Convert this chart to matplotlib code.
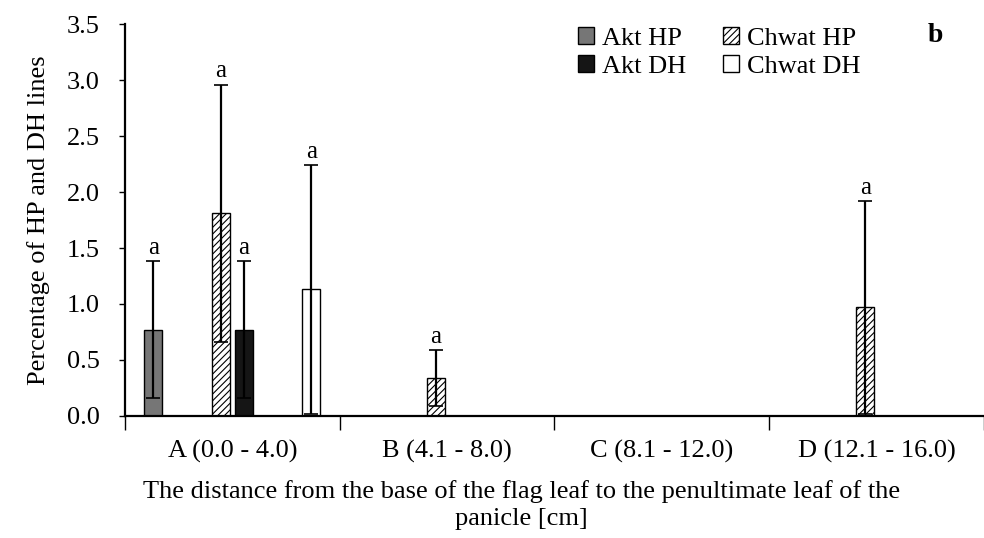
import numpy as np
import matplotlib.pyplot as plt

plt.rcParams['font.family'] = ['Liberation Serif', 'DejaVu Serif']
plt.rcParams['hatch.linewidth'] = 0.8

groups = ["A (0.0 - 4.0)", "B (4.1 - 8.0)", "C (8.1 - 12.0)", "D (12.1 - 16.0)"]
series = ["Akt HP", "Akt DH", "Chwat HP", "Chwat DH"]
akt_hp = [0.77, 0.0, 0.0, 0.0]
akt_hp_sd = [0.61, 0.0, 0.0, 0.0]
akt_dh = [0.77, 0.0, 0.0, 0.0]
akt_dh_sd = [0.61, 0.0, 0.0, 0.0]
chwat_hp = [1.81, 0.34, 0.0, 0.97]
chwat_hp_sd = [1.15, 0.25, 0.0, 0.95]
chwat_dh = [1.13, 0.0, 0.0, 0.0]
chwat_dh_sd = [1.11, 0.0, 0.0, 0.0]

means = [akt_hp, akt_dh, chwat_hp, chwat_dh]
sds = [akt_hp_sd, akt_dh_sd, chwat_hp_sd, chwat_dh_sd]
slots = [0, 4, 3, 7]  # position of each series inside its group (8 slots)
faces = ["#767676", "#151515", "white", "white"]
hatches = [None, None, "/////", None]

fig = plt.figure(figsize=(9.84, 5.38), dpi=100)
ax = fig.add_axes([0.127, 0.227, 0.873, 0.728])

slot_w = 0.105
bar_w = 0.084
x = np.arange(len(groups))
for i in range(len(series)):
    pos = x + 0.5 + (slots[i] - 3.5) * slot_w
    ax.bar(pos, means[i], bar_w, color=faces[i], edgecolor="black", linewidth=1.0,
           hatch=hatches[i], label=series[i], zorder=2)
    m = np.array(means[i])
    s = np.array(sds[i])
    keep = m > 0
    ax.errorbar(pos[keep], m[keep], yerr=s[keep], fmt="none", ecolor="black",
                elinewidth=1.6, capsize=5, capthick=1.2, zorder=3)
    # significance letter above each error bar
    for px, mv, sv in zip(pos[keep], m[keep], s[keep]):
        ax.text(px, mv + sv + 0.02, "a", ha="center", va="bottom", fontsize=18)

ax.set_xlim(0, 4)
ax.set_ylim(0, 3.5)
ax.set_yticks(np.arange(0, 3.51, 0.5))
ax.set_yticklabels([f"{v:.1f}" for v in np.arange(0, 3.51, 0.5)])
ax.set_xticks(np.arange(0, 5))
ax.set_xticklabels([])
ax.set_xticks(x + 0.5, minor=True)
ax.set_xticklabels(groups, minor=True)
ax.tick_params(axis="x", which="major", length=10, width=1.0, direction="out")
ax.tick_params(axis="x", which="minor", length=0, pad=17, labelsize=19)
ax.tick_params(axis="y", length=4, width=1.0, direction="out", pad=14, labelsize=19)

for side in ["top", "right"]:
    ax.spines[side].set_visible(False)
for side in ["left", "bottom"]:
    ax.spines[side].set_linewidth(1.6)

ax.set_ylabel("Percentage of HP and DH lines", fontsize=19, labelpad=12)
fig.text(0.53, 1 - 480 / 538, "The distance from the base of the flag leaf to the penultimate leaf of the\npanicle [cm]",
         ha="center", va="top", fontsize=19, linespacing=1.3)

ax.legend(ncol=2, frameon=False, fontsize=19, loc="upper left",
          bbox_to_anchor=(565 / 984, 1 - 14 / 538), bbox_transform=fig.transFigure,
          handlelength=0.6, handleheight=0.6, handletextpad=0.3,
          columnspacing=1.4, labelspacing=0.2, borderpad=0)
fig.text(935 / 984, 1 - 35 / 538, "b", ha="center", va="center", fontsize=20, fontweight="bold")

fig.savefig("out.png", dpi=100)
